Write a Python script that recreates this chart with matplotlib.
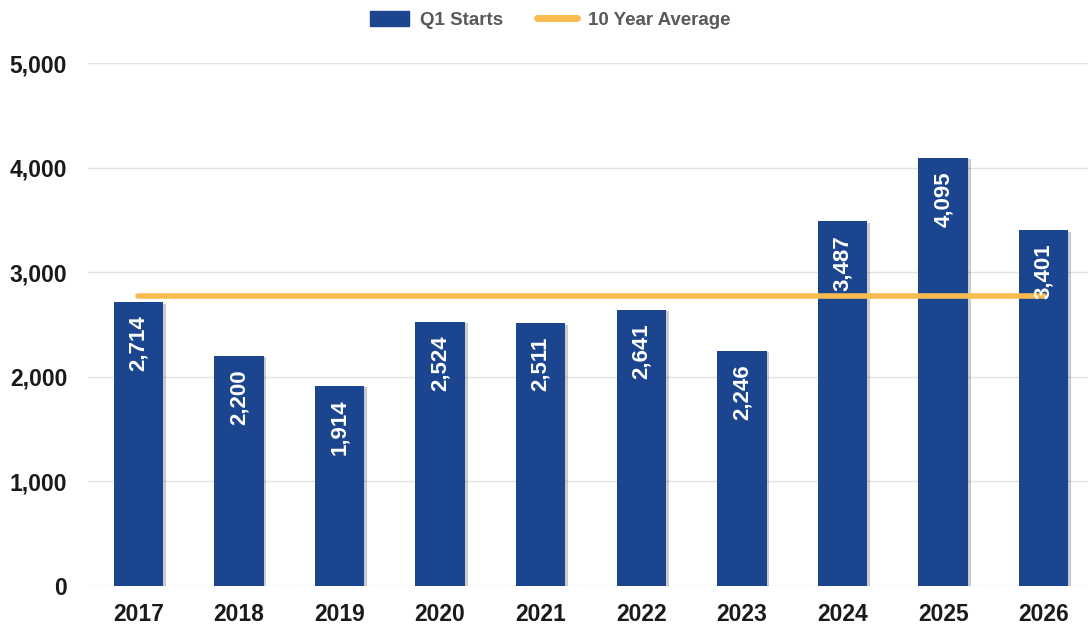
import matplotlib
matplotlib.use("Agg")
import matplotlib.pyplot as plt
from matplotlib.patches import Patch
from matplotlib.lines import Line2D
import matplotlib.patheffects as pe

years = ["2017", "2018", "2019", "2020", "2021", "2022", "2023", "2024", "2025", "2026"]
q1_starts = [2714, 2200, 1914, 2524, 2511, 2641, 2246, 3487, 4095, 3401]
ten_year_avg = 2773
yticks = [0, 1000, 2000, 3000, 4000, 5000]

BLUE = "#1b458f"
ORANGE = "#fbbc4f"
plt.rcParams['font.family'] = ['Liberation Sans', 'DejaVu Sans']

fig = plt.figure(figsize=(10.88, 6.27), dpi=100)
ax = fig.add_axes([88/1088, 1 - 586/627, 1000/1088, (586-63)/627])

x = list(range(len(years)))
bars = ax.bar(x, q1_starts, width=0.49, color=BLUE, zorder=2,
              path_effects=[pe.SimplePatchShadow(offset=(2, -1), alpha=0.2, shadow_rgbFace='k'), pe.Normal()])

ax.plot([x[0], x[-1]], [ten_year_avg, ten_year_avg], color=ORANGE, lw=4, solid_capstyle='round', zorder=3)

for xi, v in zip(x, q1_starts):
    ax.text(xi, v - 130, f"{v:,}", rotation=90, ha='center', va='top', color='white',
            fontsize=16, fontweight='bold', zorder=4)

ax.set_xlim(-0.5, 9.44)
ax.set_ylim(0, 5000)
ax.set_yticks(yticks)
ax.set_yticklabels([f"{t:,}" for t in yticks])
ax.set_xticks(x)
ax.set_xticklabels(years)
ax.tick_params(axis='both', length=0, labelsize=16.5, labelcolor='#1a1a1a')
ax.tick_params(axis='y', pad=15)
ax.tick_params(axis='x', pad=12)
for lbl in ax.get_xticklabels() + ax.get_yticklabels():
    lbl.set_fontweight('bold')
ax.grid(axis='y', color='#e3e3e3', lw=1, zorder=0)
ax.set_axisbelow(True)
for s in ax.spines.values():
    s.set_visible(False)

handles = [Patch(facecolor=BLUE, edgecolor=BLUE, label='Q1 Starts'),
           Line2D([0], [0], color=ORANGE, lw=5, solid_capstyle='round', label='10 Year Average')]
leg = fig.legend(handles=handles, loc='center', bbox_to_anchor=(550/1088, 1 - 20/627), ncol=2,
                 frameon=False, fontsize=13.5, handlelength=2.1, handleheight=0.8,
                 columnspacing=1.8, handletextpad=0.6)
for t in leg.get_texts():
    t.set_color('#595959')
    t.set_fontweight('bold')

fig.savefig("out.png", dpi=100)
